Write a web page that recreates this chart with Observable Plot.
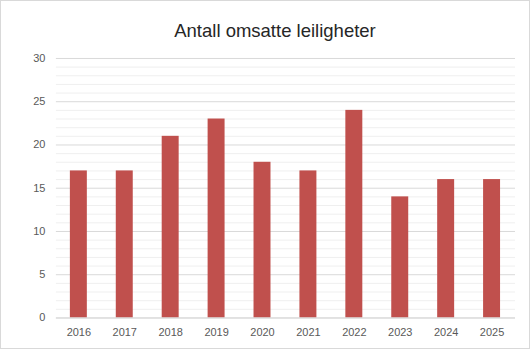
<!DOCTYPE html>
<html><head><meta charset="utf-8">
<script src="https://cdn.jsdelivr.net/npm/d3@7"></script>
<script src="https://cdn.jsdelivr.net/npm/@observablehq/plot@0.6"></script>
<style>
html,body{margin:0;padding:0;background:#fff;}
#wrap{position:relative;width:528px;height:347px;border:1px solid #d9d9d9;overflow:hidden;font-family:Calibri,"Liberation Sans",Arial,sans-serif;}
#title{position:absolute;left:10px;top:19px;width:528px;text-align:center;font-size:18.5px;color:#262626;font-family:"Liberation Sans",Arial,sans-serif;}
#chart{position:absolute;left:-1px;top:44px;}
</style></head><body>
<div id="wrap"><div id="title">Antall omsatte leiligheter</div><div id="chart"></div></div>
<script>
const years = ["2016","2017","2018","2019","2020","2021","2022","2023","2024","2025"];
const sales = [17,17,21,23,18,17,24,14,16,16];
const yTicks = [0,5,10,15,20,25,30];
const minorTicks = d3.range(0,31).filter(v => v % 5 !== 0);
const data = years.map((y,i) => ({year:y, value:sales[i]}));
const chart = Plot.plot({
  width: 530, height: 305,
  marginTop: 13, marginBottom: 32, marginLeft: 56, marginRight: 14,
  style: {fontFamily: '"Liberation Sans",Arial,sans-serif', fontSize: "11px", color: "#595959", background: "transparent"},
  x: {domain: years, paddingInner: 0.62, paddingOuter: 0.31, align: 0.5, label: null, tickSize: 0, tickPadding: 10},
  y: {domain: [0,30], ticks: yTicks, label: null, tickSize: 0, tickPadding: 11},
  marks: [
    Plot.ruleY(minorTicks, {stroke: "#efefef", strokeWidth: 1}),
    Plot.ruleY(yTicks, {stroke: "#d9d9d9", strokeWidth: 1}),
    Plot.barY(data, {x: "year", y: "value", fill: "#c0504d"}),
    Plot.ruleY([0], {stroke: "#d9d9d9"})
  ]
});
document.getElementById("chart").appendChild(chart);
</script>
</body></html>
